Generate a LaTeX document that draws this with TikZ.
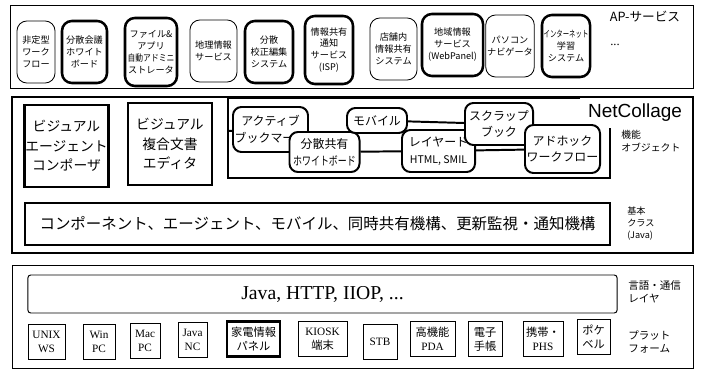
\documentclass[tikz,border=0pt]{standalone}
\usepackage{fontspec}
\setmainfont{Liberation Serif}
\setsansfont{Liberation Sans}
\newfontfamily\jp{Noto Sans CJK JP}
\usetikzlibrary{backgrounds}
\tikzset{layerframe/.style={draw, line width=0.7pt},
        apthin/.style={draw, line width=0.6pt, rounded corners=7pt, fill=white, align=center,
                       inner sep=1pt, minimum height=1.55cm, font=\jp\fontsize{6.5}{8.5}\selectfont},
        apthick/.style={apthin, line width=1.8pt},
        viewbox/.style={draw, line width=1.8pt, align=center, inner sep=0.5pt,
                        minimum width=2.075cm, minimum height=2.05cm, font=\jp\fontsize{9.8}{14}\selectfont},
        ncpart/.style={draw, line width=1.4pt, rounded corners=6pt, fill=white, align=center,
                       inner sep=1pt, font=\jp\fontsize{8.5}{12}\selectfont},
        basebox/.style={draw, line width=1.8pt, minimum width=14.625cm, minimum height=1.05cm,
                        font=\jp\fontsize{11}{13}\selectfont},
        protobox/.style={draw, line width=0.7pt, rounded corners=2pt, minimum width=14.725cm,
                         minimum height=0.95cm, font=\fontsize{14}{16}\selectfont},
        pfbox/.style={draw, line width=0.6pt, align=center, inner sep=1pt, minimum height=0.875cm,
                      font=\fontsize{8}{10}\selectfont},
        pfthick/.style={pfbox, line width=1.8pt},
        sidelabel/.style={anchor=west, align=left, inner sep=0pt, font=\jp\fontsize{7}{9}\selectfont},
        }

\begin{document}
\begin{tikzpicture}[x=0.025cm, y=-0.025cm]
    \useasboundingbox (0,0) rectangle (708,372);

    % AP services
    \draw[layerframe] (10,5) rectangle (693,88);
    \node[apthin, minimum width=0.95cm] (flow) at (36,52) {非定型\\ワーク\\フロー};
    \node[apthick, minimum width=1.125cm] (board) at (84.5,52) {分散会議\\ホワイト\\ボード};
    \node[apthick, minimum width=1.3cm, minimum height=1.7cm] (admin) at (151,52)
        {ファイル\&\\アプリ\\\scalebox{0.85}[1]{自動アドミニ}\\ストレータ};
    \node[apthin, minimum width=1.175cm] (geo) at (213.5,51) {地理情報\\サービス};
    \node[apthick, minimum width=1.2cm] (proof) at (269,52) {分散\\校正編集\\システム};
    \node[apthick, minimum width=1.2cm, minimum height=1.7cm] (isp) at (329,50)
        {情報共有\\通知\\サービス\\(ISP)};
    \node[apthin, minimum width=1.175cm] (store) at (393.5,49) {店舗内\\情報共有\\システム};
    \node[apthick, minimum width=1.525cm] (webpanel) at (452.5,45) {地域情報\\サービス\\(WebPanel)};
    \node[apthin, minimum width=1.15cm] (navi) at (510,46) {パソコン\\ナビゲータ};
    \node[apthick, minimum width=1.2cm] (elearn) at (566,46)
        {\scalebox{0.7}[1]{インターネット}\\学習\\システム};
    \node[font=\fontsize{9}{10}\selectfont] (more) at (615,45) {...};
    \node[font=\jp\fontsize{9}{10}\selectfont] (aplabel) at (645,17) {AP-サービス};

    % NetCollage
    \draw[layerframe, line width=1pt] (12,97) rectangle (693,253);
    \node[viewbox] (composer) at (66.5,146) {ビジュアル\\エージェント\\コンポーザ};
    \node[viewbox, minimum width=2.1cm] (editor) at (170,144) {ビジュアル\\複合文書\\エディタ};
    \draw[line width=1.8pt] (580,98) -- (228,98) -- (228,178) -- (610,178) -- (610,128);
    \coordinate (ncleft) at (228,131);
    \node[ncpart, minimum width=1.875cm, minimum height=1.125cm] (bookmark) at (270.5,129.5)
        {アクティブ\\ブックマーク};
    \node[ncpart, minimum width=1.75cm, minimum height=1cm] (whiteboard) at (324.5,152)
        {分散共有\\\scalebox{0.75}[1]{ホワイトボード}};
    \node[ncpart, minimum width=1.5cm, minimum height=0.625cm] (mobile) at (377,120.5) {モバイル};
    \node[ncpart, minimum width=1.825cm, minimum height=1.05cm] (layered) at (438.5,151)
        {レイヤード\\{\fontsize{7.5}{9}\selectfont HTML, SMIL}};
    \node[ncpart, minimum width=1.7cm, minimum height=1.05cm] (scrap) at (499,124) {スクラップ\\ブック};
    \node[ncpart, minimum width=1.875cm, minimum height=1.2cm] (adhoc) at (562.5,149)
        {アドホック\\ワークフロー};
    \begin{scope}[on background layer]
        \draw[line width=1.4pt] (ncleft) -- (bookmark);
        \draw[line width=1.4pt] (whiteboard) -- (layered) -- (adhoc);
        \draw[line width=1.4pt] (mobile) -- (scrap);
    \end{scope}
    \node[font=\sffamily\fontsize{13.5}{15}\selectfont] (nclabel) at (635,113) {NetCollage};
    \node[sidelabel] (funclabel) at (621,141) {機能\\オブジェクト};
    \node[basebox] (base) at (317.5,224)
        {コンポーネント、エージェント、モバイル、同時共有機構、更新監視・通知機構};
    \node[sidelabel, font=\jp\fontsize{6.5}{8.5}\selectfont] (baselabel) at (627,224)
        {基本\\クラス\\(Java)};

    % platforms
    \draw[layerframe] (12,265) rectangle (693,368);
    \node[protobox] (proto) at (322.5,294) {Java, HTTP, IIOP, ...};
    \node[sidelabel, font=\jp\fontsize{7.5}{9.5}\selectfont] (protolabel) at (628,292) {言語・通信\\レイヤ};
    \node[pfbox, minimum width=0.925cm] (unix) at (46.5,342) {UNIX\\WS};
    \node[pfbox, minimum width=0.8cm] (win) at (99,342) {Win\\PC};
    \node[pfbox, minimum width=0.75cm] (mac) at (145,341) {Mac\\PC};
    \node[pfbox, minimum width=0.725cm] (nc) at (192.5,340) {Java\\NC};
    \node[pfthick, minimum width=1.325cm] (panel) at (253.5,339) {{\jp 家電情報}\\{\jp パネル}};
    \node[pfbox, minimum width=1.225cm] (kiosk) at (322.5,339) {KIOSK\\{\jp 端末}};
    \node[pfbox, minimum width=0.85cm] (stb) at (380,342) {STB};
    \node[pfbox, minimum width=1.125cm] (pda) at (432.5,339) {{\jp 高機能}\\PDA};
    \node[pfbox, minimum width=0.85cm] (organizer) at (485,339) {{\jp 電子}\\{\jp 手帳}};
    \node[pfbox, minimum width=1cm] (phs) at (543,339) {{\jp 携帯・}\\PHS};
    \node[pfbox, minimum width=0.825cm] (pager) at (593.5,337) {{\jp ポケ}\\{\jp ベル}};
    \node[sidelabel, font=\jp\fontsize{7.5}{9.5}\selectfont] (pflabel) at (628,342) {プラット\\フォーム};
\end{tikzpicture}
\end{document}
